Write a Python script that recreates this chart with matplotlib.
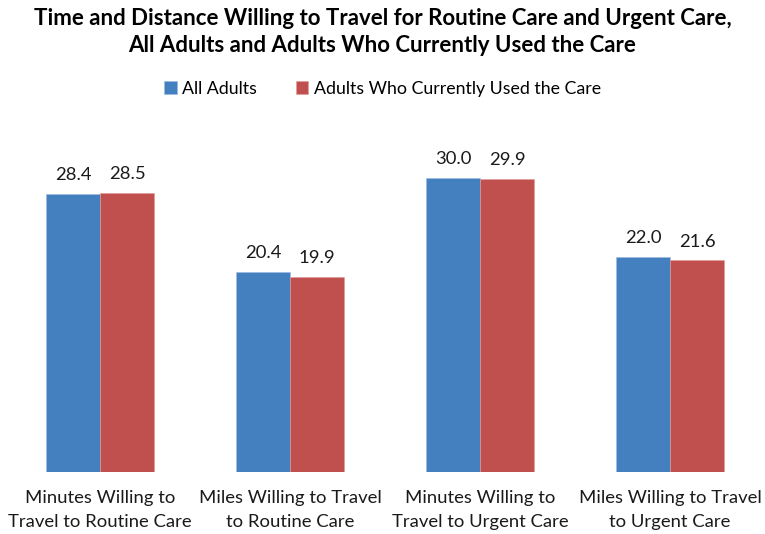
import matplotlib.pyplot as plt
import numpy as np

plt.rcParams['font.family'] = ['Lato', 'DejaVu Sans']

categories = ["Minutes Willing to\nTravel to Routine Care",
              "Miles Willing to Travel\nto Routine Care",
              "Minutes Willing to\nTravel to Urgent Care",
              "Miles Willing to Travel\nto Urgent Care"]
all_adults = [28.4, 20.4, 30.0, 22.0]
used_care = [28.5, 19.9, 29.9, 21.6]
series_names = ["All Adults", "Adults Who Currently Used the Care"]

blue = "#4480C0"
red = "#C0504D"

fig = plt.figure(figsize=(7.65, 5.34), dpi=100)
ax = fig.add_axes([0.0065, 0.116, 0.9935, 0.642])

x = np.arange(len(categories))
w = 0.284
b1 = ax.bar(x - w / 2, all_adults, w, color=blue, edgecolor="#9dbbe0", linewidth=0.4, label=series_names[0])
b2 = ax.bar(x + w / 2, used_care, w, color=red, edgecolor="#e09b99", linewidth=0.4, label=series_names[1])

for bars in (b1, b2):
    for r in bars:
        ax.text(r.get_x() + r.get_width() / 2, r.get_height() + 1.1, "%.1f" % r.get_height(),
                ha="center", va="bottom", fontsize=13.3, color="#1a1a1a")

ax.set_xlim(-0.5, 3.5)
ax.set_ylim(0, 35)
ax.set_yticks([])
ax.set_xticks(x)
ax.set_xticklabels(categories, fontsize=13.3, color="#1a1a1a", linespacing=1.6)
ax.tick_params(axis="x", length=0, pad=13)
for s in ax.spines.values():
    s.set_visible(False)

fig.text(0.5, 0.985, "Time and Distance Willing to Travel for Routine Care and Urgent Care,\n"
         "All Adults and Adults Who Currently Used the Care",
         ha="center", va="top", fontsize=16, fontweight="bold", linespacing=1.35)

fig.legend(loc="center", bbox_to_anchor=(0.5, 0.834), ncol=2, frameon=False, fontsize=12.8,
           handlelength=0.7, handleheight=0.7, handletextpad=0.3, columnspacing=2.2)

fig.savefig("out.png", dpi=100)
